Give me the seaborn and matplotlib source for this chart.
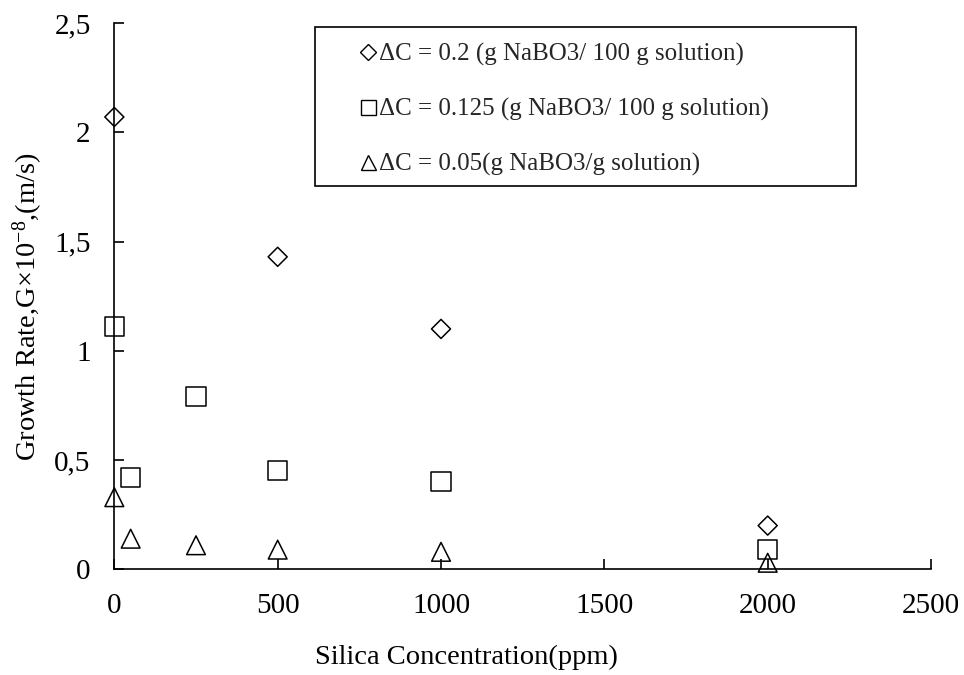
import numpy as np
import pandas as pd
import matplotlib
matplotlib.use('Agg')
import matplotlib.pyplot as plt
import seaborn as sns
from matplotlib.lines import Line2D
from matplotlib.patches import Rectangle

sns.set_style("white")
plt.rcParams['font.family'] = ['Liberation Serif', 'DejaVu Serif']
plt.rcParams['mathtext.fontset'] = 'custom'
plt.rcParams['mathtext.rm'] = 'Liberation Serif'
plt.rcParams['mathtext.it'] = 'Liberation Serif:italic'

# data
silica_d = [0, 500, 1000, 2000]
rate_d = [2.07, 1.43, 1.10, 0.20]
silica_s = [0, 50, 250, 500, 1000, 2000]
rate_s = [1.11, 0.42, 0.79, 0.45, 0.40, 0.09]
silica_t = [0, 50, 250, 500, 1000, 2000]
rate_t = [0.33, 0.14, 0.11, 0.09, 0.08, 0.03]
labels = ['ΔC = 0.2 (g NaBO3/ 100 g solution)',
          'ΔC = 0.125 (g NaBO3/ 100 g solution)',
          'ΔC = 0.05(g NaBO3/g solution)']
yticks = [0, 0.5, 1, 1.5, 2, 2.5]
ytick_labels = ['0', '0,5', '1', '1,5', '2', '2,5']
xticks = [0, 500, 1000, 1500, 2000, 2500]

fig = plt.figure(figsize=(9.64, 6.75), dpi=100)
ax = fig.add_axes([0.1186, 0.1566, 0.8472, 0.8093])

series = [(silica_d, rate_d, 'D', 94), (silica_s, rate_s, 's', 188), (silica_t, rate_t, '^', 182)]
for x, y, m, s in series:
    sns.scatterplot(x=x, y=y, marker=m, s=s, facecolors='none', edgecolor='black',
                    linewidth=1.1, ax=ax, clip_on=False, zorder=3)

ax.set_xlim(0, 2500)
ax.set_ylim(0, 2.5)
ax.set_xticks(xticks)
ax.set_yticks(yticks)
ax.set_yticklabels(ytick_labels)
for sp in ['top', 'right']:
    ax.spines[sp].set_visible(False)
for sp in ['left', 'bottom']:
    ax.spines[sp].set_color('black')
    ax.spines[sp].set_linewidth(1.2)
ax.tick_params(axis='both', direction='in', length=7, width=1.2, colors='black', labelsize=21)
ax.tick_params(axis='y', pad=17, left=True)
ax.tick_params(axis='x', pad=17, bottom=True)

ax.set_xlabel('Silica Concentration(ppm)', fontsize=20.5, color='black')
ax.set_ylabel('Growth Rate,G×10$^{-8}$,(m/s)', fontsize=20.5, color='black')
ax.xaxis.set_label_coords(0.4306, -0.138)
ax.yaxis.set_label_coords(-0.085, 0.48)

handles = [Line2D([], [], marker='D', ls='none', mfc='none', mec='black', ms=8.5, mew=1),
           Line2D([], [], marker='s', ls='none', mfc='none', mec='black', ms=10.8, mew=1),
           Line2D([], [], marker='^', ls='none', mfc='none', mec='black', ms=10.8, mew=1)]
ax.legend(handles, labels, loc='upper left', bbox_to_anchor=(360.5 / 964, 1 - 43 / 675),
          bbox_transform=fig.transFigure, frameon=False, fontsize=18, handlelength=0.6,
          handletextpad=0.15, labelspacing=1.27, borderpad=0, borderaxespad=0)
fig.patches.append(Rectangle((315 / 964, 1 - 186 / 675), 541 / 964, 159 / 675,
                             transform=fig.transFigure, fill=False, lw=1.2, ec='black'))

fig.savefig('out.png', dpi=100)
